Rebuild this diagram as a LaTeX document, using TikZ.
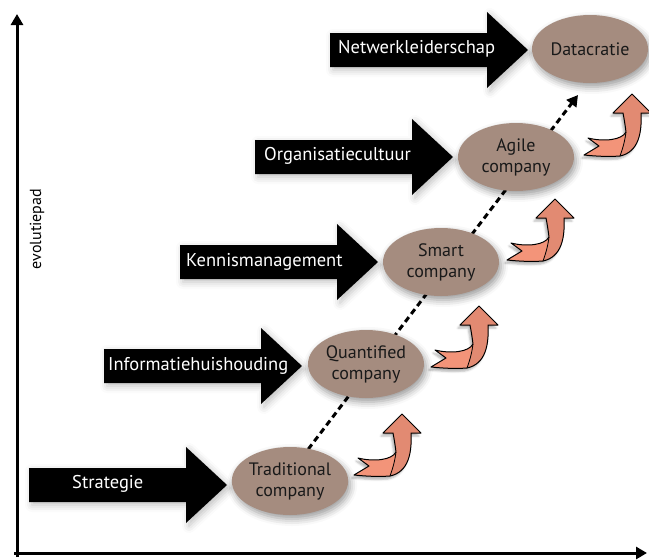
\documentclass[tikz,border=0pt]{standalone}
\usepackage{fontspec}
\setmainfont{PT Sans}
\usetikzlibrary{arrows.meta,shapes.geometric,shadows.blur}

\definecolor{stagebrown}{HTML}{A58C7F}
\definecolor{swirllight}{HTML}{F39479}
\definecolor{swirldark}{HTML}{E28A72}

\begin{document}
\begin{tikzpicture}[
  x=1pt, y=-1pt,
  line join=round,
  >={Triangle[length=11pt,width=12pt]},
  axis/.style={draw=black,line width=3pt,->},
  trend/.style={draw=black,line width=3pt,dash pattern=on 6pt off 4pt,->},
  stage/.style={ellipse,fill=stagebrown,minimum width=116pt,minimum height=68pt,
    inner sep=0pt,align=center,text=black!90,font=\fontsize{18}{21}\selectfont,
    blur shadow={shadow xshift=2pt,shadow yshift=-4pt,shadow blur radius=7pt}},
  levertext/.style={anchor=west,inner sep=0pt,text=white,font=\fontsize{18.5}{21}\selectfont},
  lever/.pic={
    \fill[black,blur shadow={shadow xshift=3pt,shadow yshift=-3pt,shadow opacity=25,shadow blur radius=7pt}]
      (0,-17) -- (157,-17) -- (157,-38) -- (198,0) -- (157,38) -- (157,17) -- (0,17) -- cycle;
  },
  swirl/.pic={
    % light tail
    \fill[swirllight,blur shadow={shadow xshift=-2pt,shadow yshift=-3pt,shadow opacity=30}]
      (0,0) -- (19,19) -- (9,19)
      .. controls (10,38) and (7,58) .. (-12,62)
      .. controls (-25,63) and (-38,62) .. (-48,61)
      -- (-33,52) -- (-44,44)
      .. controls (-28,48) and (-10,46) .. (-6,38)
      .. controls (-7,30) and (-8,24) .. (-9,19)
      -- (-19,19) -- cycle;
    % darker rising part
    \fill[swirldark] (0,0) -- (19,19) -- (9,19)
      .. controls (10,38) and (7,58) .. (-12,62)
      .. controls (-9,54) and (-7,46) .. (-6,38)
      .. controls (-7,30) and (-8,24) .. (-9,19)
      -- (-19,19) -- cycle;
    \draw[line width=1pt] (0,0) -- (19,19) -- (9,19)
      .. controls (10,38) and (7,58) .. (-12,62)
      .. controls (-25,63) and (-38,62) .. (-48,61)
      -- (-33,52) -- (-44,44)
      .. controls (-28,48) and (-10,46) .. (-6,38)
      .. controls (-7,30) and (-8,24) .. (-9,19)
      -- (-19,19) -- cycle;
    \draw[line width=0.8pt] (-6,38) .. controls (-7,46) and (-9,54) .. (-12,62);
  }
]
\useasboundingbox (0,0) rectangle (649,560);

% Axes
\coordinate (origin) at (17,553);
\coordinate (ytop) at (17,14);
\coordinate (xend) at (647,553);
\draw[axis] (17,557) -- (ytop);
\draw[axis] (14,553) -- (xend);
\node[rotate=90,font=\fontsize{16}{18}\selectfont] (ylab) at (37,229) {evolutiepad};

% Levers (black block arrows)
\pic (a1) at (29,485) {lever};
\pic (a2) at (104,366) {lever};
\pic (a3) at (180,262) {lever};
\pic (a4) at (255,157) {lever};
\pic (a5) at (330,50) {lever};
\node[levertext] (t1) at (72,484) {Strategie};
\node[levertext] (t2) at (108,366) {Informatiehuishouding};
\node[levertext] (t3) at (186,262) {Kennismanagement};
\node[levertext] (t4) at (264,156) {Organisatiecultuur};
\node[levertext] (t5) at (338,49) {Netwerkleiderschap};

% Evolution path
\coordinate (trend end) at (578,95);
\coordinate (trend start) at (284,481);
\draw[trend] (trend start) -- (trend end);

% Stages
\node[stage] (trad) at (290,481) {Traditional\\company};
\node[stage] (quant) at (366,364) {Quantified\\company};
\node[stage] (smart) at (441,262) {Smart\\company};
\node[stage] (agile) at (516,157) {Agile\\company};
\node[stage] (data) at (590,49) {Datacratie};

% Growth swirls
\pic (s1) at (402,414) {swirl};
\pic (s2) at (479,306) {swirl};
\pic (s3) at (555,199) {swirl};
\pic (s4) at (632,94) {swirl};

\end{tikzpicture}
\end{document}
